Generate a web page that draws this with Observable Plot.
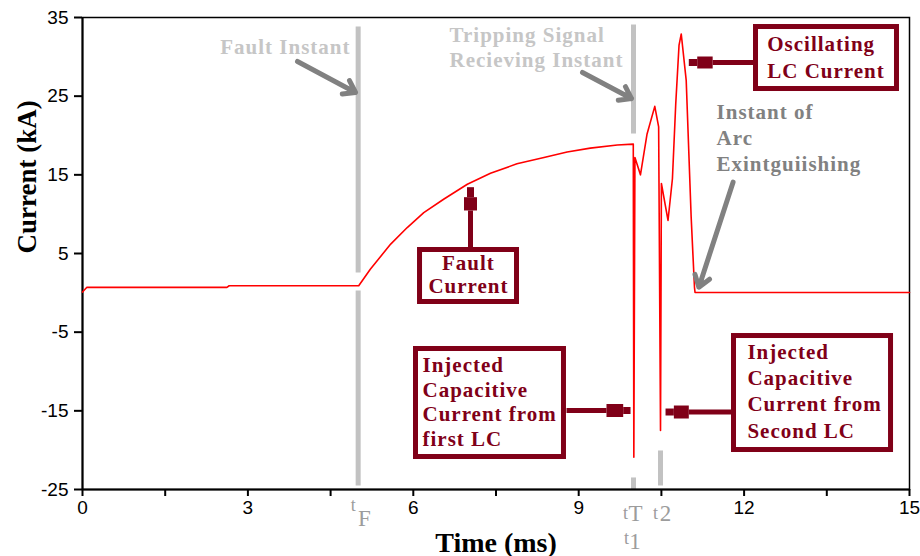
<!DOCTYPE html>
<html><head><meta charset="utf-8">
<script src="https://cdn.jsdelivr.net/npm/d3@7"></script>
<script src="https://cdn.jsdelivr.net/npm/@observablehq/plot@0.6"></script>
<style>
html,body{margin:0;padding:0;background:#fff;}
#chart{width:920px;height:556px;}
g[font-family^="Liberation Serif"].annot text{letter-spacing:1px;}
</style></head><body><div id="chart"></div>
<script>
// ---- data (time in ms, current in kA)
const timeMs = [0, 0.08, 2.62, 2.66, 5.01, 5.22, 5.59, 5.89, 6.19, 6.55, 6.98, 7.40, 7.88, 8.37, 8.79, 9.21, 9.70, 9.99,
  10.0, 10.02, 10.12, 10.24, 10.38, 10.45, 10.484, 10.50, 10.62, 10.70, 10.76, 10.82, 10.86, 10.95, 11.04, 11.10, 11.11, 15];
const currentKA = [0.1, 0.7, 0.7, 0.9, 0.9, 3.0, 6.2, 8.3, 10.2, 11.9, 13.8, 15.2, 16.4, 17.2, 17.9, 18.4, 18.8, 18.9,
  -20.9, 17.2, 15.0, 20.2, 23.7, 21.1, -17.5, 13.9, 9.2, 14.5, 24.0, 31.5, 32.9, 27.0, 9.6, 0.7, 0.05, 0.05];

const xTicks = d3.range(0, 15.01, 1.5);
const xLabelEvery = 3;
const yTicks = [35, 25, 15, 5, -5, -15, -25];

// instants (ms)
const instantNames = ["F", "T", "1", "2"];
const instantTimes = [5.0, 9.994, 9.994, 10.484];

// ---- annotation layout (data units)
const DARK = "#800018", LIGHT = "#c6c6c6", BAR = "#c2c2c2", MID = "#818181", INST = "#9c9c9c";
const SERIF = "Liberation Serif, Times New Roman, serif";

const grayBars = [
  {x: instantTimes[0], y1: 33.86, y2: 2.58}, {x: instantTimes[0], y1: 0.30, y2: -24.49},
  {x: instantTimes[1], y1: 34.11, y2: 20.25}, {x: instantTimes[1], y1: -23.47, y2: -25},
  {x: instantTimes[3], y1: -20.04, y2: -24.49}
];
const grayArrows = [
  {x1: 3.90, y1: 29.41, x2: 4.952, y2: 25.47},
  {x1: 9.069, y1: 28.01, x2: 9.958, y2: 24.70},
  {x1: 11.80, y1: 14.07, x2: 11.18, y2: 0.72}
];
const grayTexts = [
  {x: 4.861, y: 30.39, text: "Fault Instant", anchor: "end", color: LIGHT, lh: 1},
  {x: 6.657, y: 28.68, text: "Tripping Signal\nRecieving Instant", anchor: "start", color: LIGHT, lh: 1.19},
  {x: 11.50, y: 15.55, text: "Instant of\nArc\nExintguiishing", anchor: "start", color: MID, lh: 1.23}
];
const boxes = [
  {x1: 12.216, x2: 14.773, y1: 33.79, y2: 25.91},
  {x1: 6.122, x2: 7.881, y1: 5.445, y2: -1.165},
  {x1: 6.049, x2: 8.733, y1: -7.14, y2: -20.87},
  {x1: 11.817, x2: 14.665, y1: -5.49, y2: -19.98}
];
const boxTexts = [
  {x: 12.42, y: 27.33, text: "Oscillating\nLC Current", anchor: "start", lh: 1.27},
  {x: 7.0, y: -0.02, text: "Fault\nCurrent", anchor: "middle", lh: 1.1},
  {x: 6.167, y: -19.41, text: "Injected\nCapacitive\nCurrent from\nfirst LC", anchor: "start", lh: 1.16},
  {x: 12.06, y: -18.39, text: "Injected\nCapacitive\nCurrent from\nSecond LC", anchor: "start", lh: 1.25}
];
// dark arrows: shaft, wide block, tip (each a segment with a width)
const darkArrowParts = [
  // oscillating
  {x1: 11.43, y1: 29.28, x2: 12.17, y2: 29.28, w: 5},
  {x1: 11.15, y1: 29.28, x2: 11.43, y2: 29.28, w: 12},
  {x1: 10.997, y1: 29.28, x2: 11.15, y2: 29.28, w: 7},
  // fault current
  {x1: 7.037, y1: 5.76, x2: 7.037, y2: 10.47, w: 5},
  {x1: 7.037, y1: 10.47, x2: 7.037, y2: 12.16, w: 13},
  {x1: 7.037, y1: 12.16, x2: 7.037, y2: 13.43, w: 7},
  // first LC
  {x1: 8.779, y1: -14.96, x2: 9.504, y2: -14.96, w: 5},
  {x1: 9.504, y1: -14.96, x2: 9.807, y2: -14.96, w: 13},
  {x1: 9.807, y1: -14.96, x2: 9.940, y2: -14.96, w: 7},
  // second LC
  {x1: 10.997, y1: -15.15, x2: 11.77, y2: -15.15, w: 5},
  {x1: 10.726, y1: -15.15, x2: 10.997, y2: -15.15, w: 13},
  {x1: 10.575, y1: -15.15, x2: 10.726, y2: -15.15, w: 7}
];
// instant labels: "t" + subscript
const instLabels = [
  {i: 0, tdx: -5, tdy: 21, sdx: 6.3, sdy: 36},
  {i: 1, tdx: -8, tdy: 29, sdx: 2, sdy: 31},
  {i: 2, tdx: -7, tdy: 54, sdx: 1.4, sdy: 59},
  {i: 3, tdx: -5, tdy: 29, sdx: 5, sdy: 31}
];

const marks = [];
// gray instant bars
marks.push(Plot.link(grayBars, {x1: "x", x2: "x", y1: "y1", y2: "y2", stroke: BAR, strokeWidth: 5}));
// frame & axes
marks.push(Plot.frame({stroke: "#000", strokeWidth: 1.5}));
marks.push(Plot.ruleX([0], {stroke: "#000", strokeWidth: 2}));
marks.push(Plot.ruleY([-25], {stroke: "#000", strokeWidth: 2}));
marks.push(Plot.axisY({ticks: yTicks, tickSize: 8, tickPadding: 6, fontSize: 19, strokeWidth: 2, label: null,
  tickFormat: d => String(d)}));
marks.push(Plot.axisX({ticks: xTicks, tickSize: 7, tickPadding: 4, fontSize: 19, strokeWidth: 2, label: null,
  tickFormat: d => (Math.abs(d % xLabelEvery) < 1e-9 ? String(d) : "")}));
// the current trace
marks.push(Plot.line(timeMs, {x: timeMs, y: currentKA, stroke: "#ff0000", strokeWidth: 1.6}));
// gray arrows + texts
marks.push(Plot.arrow(grayArrows, {x1: "x1", y1: "y1", x2: "x2", y2: "y2", stroke: MID, strokeWidth: 5, headLength: 4, headAngle: 70}));
for (const g of grayTexts) {
  marks.push(Plot.text([g], {x: "x", y: "y", text: "text", textAnchor: g.anchor, lineAnchor: "bottom", lineHeight: g.lh,
    fill: g.color, fontSize: 21, fontWeight: "bold", fontFamily: SERIF, className: "annot"}));
}
// dark red arrows
marks.push(Plot.link(darkArrowParts, {x1: "x1", y1: "y1", x2: "x2", y2: "y2", stroke: DARK, strokeWidth: d => d.w}));
// boxes
marks.push(Plot.rect(boxes, {x1: "x1", x2: "x2", y1: "y1", y2: "y2", fill: "#fff", stroke: DARK, strokeWidth: 5}));
for (const b of boxTexts) {
  marks.push(Plot.text([b], {x: "x", y: "y", text: "text", textAnchor: b.anchor, lineAnchor: "bottom", lineHeight: b.lh,
    fill: DARK, fontSize: 21, fontWeight: "bold", fontFamily: SERIF, className: "annot"}));
}
// instant labels under the axis
for (const l of instLabels) {
  marks.push(Plot.text(["t"], {x: () => instantTimes[l.i], frameAnchor: "bottom", text: d => d, dx: l.tdx, dy: l.tdy,
    lineAnchor: "bottom", fill: INST, fontSize: 18, fontFamily: SERIF}));
  marks.push(Plot.text([instantNames[l.i]], {x: () => instantTimes[l.i], frameAnchor: "bottom", text: d => d, dx: l.sdx, dy: l.sdy,
    lineAnchor: "bottom", fill: INST, fontSize: 23, fontFamily: SERIF}));
}
// axis titles
marks.push(Plot.text(["Time (ms)"], {frameAnchor: "bottom", text: d => d, dy: 62, lineAnchor: "bottom",
  fontSize: 28, fontWeight: "bold", fontFamily: SERIF, fill: "#000"}));
marks.push(Plot.text(["Current (kA)"], {frameAnchor: "left", text: d => d, dx: -55, rotate: -90, lineAnchor: "middle",
  fontSize: 27, fontWeight: "bold", fontFamily: SERIF, fill: "#000"}));

const chart = Plot.plot({
  width: 920, height: 556,
  marginLeft: 82, marginRight: 11, marginTop: 17, marginBottom: 67,
  x: {domain: [0, 15]},
  y: {domain: [-25, 35]},
  style: {fontFamily: "Liberation Sans, Arial, sans-serif", fontSize: "19px", color: "#000", background: "#fff", overflow: "visible"},
  marks
});
document.getElementById("chart").appendChild(chart);
</script>
</body></html>
